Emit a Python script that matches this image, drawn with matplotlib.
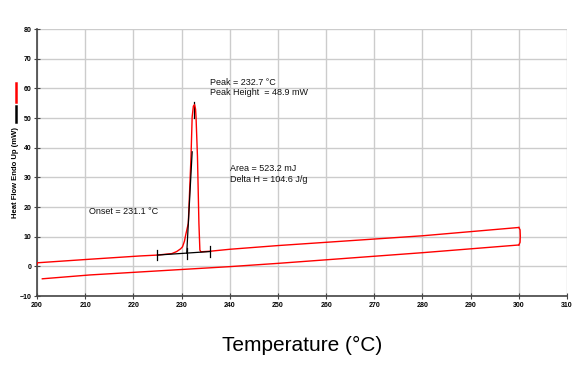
import numpy as np
import matplotlib
matplotlib.use("Agg")
import matplotlib.pyplot as plt

# ── data ─────────────────────────────────────────────────────────────────────
heat_t = [200.0, 200.1, 211.0, 221.4, 225.0, 228.0, 229.0, 229.8, 230.2, 230.6,
          230.9, 231.4, 231.96, 232.2, 232.45, 232.7, 232.9, 233.0, 233.3,
          233.6, 233.8, 234.0, 236.0, 240.0, 250.0, 280.0, 300.0]
heat_mw = [0.6, 1.2, 2.4, 3.5, 3.8, 4.3, 5.0, 5.9, 6.6, 8.5,
           10.9, 14.5, 37.0, 50.4, 54.0, 54.5, 53.0, 50.4, 37.0,
           14.5, 5.5, 4.9, 5.1, 5.75, 7.0, 10.3, 13.1]

# return leg at 300 °C and cooling line back
turn_t = [300.0, 300.25, 300.3, 300.25, 300.0]
turn_mw = [13.1, 12.3, 10.2, 8.1, 7.2]
cool_t = [300.0, 280.0, 250.0, 240.0, 211.0, 201.1]
cool_mw = [7.2, 4.6, 1.0, -0.1, -2.9, -4.2]

# analysis marks (baseline, onset tangent, peak marker)
base_t = [225.0, 236.0]
base_mw = [3.8, 5.0]
tangent_t = [231.07, 232.2]
tangent_mw = [4.4, 38.6]
tick_t = [225.0, 231.1, 235.8]
tick_mw = [3.8, 4.4, 4.95]
peak_t = 232.7
peak_mw = 54.5

fig = plt.figure(figsize=(5.83, 3.72), dpi=100)
ax = fig.add_axes([0.0635, 0.2043, 0.9091, 0.7177])

ax.plot(heat_t, heat_mw, color="red", linewidth=1.0, zorder=3)
ax.plot(turn_t, turn_mw, color="red", linewidth=1.0, zorder=3)
ax.plot(cool_t, cool_mw, color="red", linewidth=1.0, zorder=3)

ax.plot(base_t, base_mw, color="black", linewidth=0.9, zorder=4)
ax.plot(tangent_t, tangent_mw, color="black", linewidth=0.9, zorder=4)
for t, v in zip(tick_t, tick_mw):
    ax.plot([t, t], [v - 1.8, v + 1.8], color="black", linewidth=0.9, zorder=4)
ax.plot([peak_t - 0.05, peak_t - 0.05], [peak_mw - 4.5, peak_mw + 0.8],
        color="black", linewidth=0.9, zorder=2)

# ── annotations ─────────────────────────────────────────────────────────────
txt = dict(fontsize=6.5, family="Liberation Sans", color="#111111")
ax.text(235.9, 61.0, "Peak = 232.7 °C", **txt)
ax.text(236.0, 57.7, "Peak Height  = 48.9 mW", **txt)
ax.text(240.0, 32.3, "Area = 523.2 mJ", **txt)
ax.text(240.0, 28.4, "Delta H = 104.6 J/g", **txt)
ax.text(210.7, 17.6, "Onset = 231.1 °C", **txt)

# ── axes styling ─────────────────────────────────────────────────────────────
ax.set_xlim(200, 310)
ax.set_ylim(-10, 80)
ax.set_xticks(np.arange(200, 311, 10))
ax.set_yticks(np.arange(-10, 81, 10))
ax.grid(True, color="#cccccc", linewidth=1.0)
ax.set_axisbelow(True)
for s in ["top", "right"]:
    ax.spines[s].set_visible(False)
for s in ["left", "bottom"]:
    ax.spines[s].set_color("#444444")
    ax.spines[s].set_linewidth(1.2)
ax.tick_params(axis="both", direction="inout", length=4, width=0.8,
               color="#444444", labelsize=5, pad=2)
for lab in ax.get_xticklabels() + ax.get_yticklabels():
    lab.set_fontweight("bold")
    lab.set_family("Liberation Sans")

ax.set_xlabel("Temperature (°C)", fontsize=15, family="Liberation Sans",
              labelpad=20)

# y-label with the small red/black line legend above it
fig.text(0.027, 0.535, "Heat Flow Endo Up (mW)", rotation=90, ha="center",
         va="center", fontsize=5.5, fontweight="bold", family="Liberation Sans")
fig.add_artist(plt.Line2D([0.027, 0.027], [1 - 83 / 372, 1 - 102 / 372],
                          color="red", linewidth=1.8))
fig.add_artist(plt.Line2D([0.027, 0.027], [1 - 106 / 372, 1 - 122 / 372],
                          color="black", linewidth=1.8))

plt.savefig("out.png", dpi=100)
plt.close()
